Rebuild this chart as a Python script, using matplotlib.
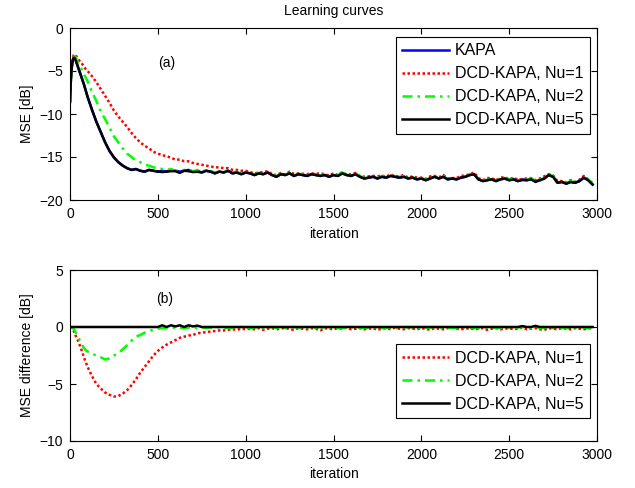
import numpy as np
import matplotlib
matplotlib.use('Agg')
import matplotlib.pyplot as plt

plt.rcParams['font.family'] = ['Liberation Sans', 'DejaVu Sans']

# iteration grid (dense at the start, then every 25)
iters = np.concatenate([[0, 5, 10, 15, 20, 25, 30, 40, 50, 60, 70, 80, 90, 100],
                        np.arange(125, 3000, 25)])

# (a) KAPA learning curve [dB]
kapa = np.array([
    -8.6, -6.0, -4.6, -3.8, -3.5, -3.45, -3.6, -4.2, -4.8, -5.4, -6.0, -6.6, -7.3, -8.0,
    -9.5, -10.9, -12.1, -13.3, -14.3, -15.05, -15.6, -16.0, -16.3, -16.5, -16.4, -16.6, -16.7, -16.5, -16.6, -16.7,
    -16.6, -16.7, -16.5, -16.6, -16.7, -16.6, -16.5, -16.7, -16.6, -16.8,
    -16.6, -16.7, -16.9, -16.7, -16.8, -16.6, -16.9, -16.8, -17.0, -16.8,
    -16.9, -17.1, -16.9, -17.0, -16.8, -17.1, -17.3, -17.0, -17.1, -16.9,
    -17.2, -17.0, -17.1, -17.2, -17.0, -17.1, -17.2, -17.1, -17.3, -17.1,
    -17.2, -16.9, -17.1, -17.2, -17.0, -17.3, -17.5, -17.4, -17.3, -17.5,
    -17.3, -17.4, -17.2, -17.3, -17.4, -17.3, -17.5, -17.4, -17.6, -17.5,
    -17.7, -17.5, -17.3, -17.5, -17.3, -17.6, -17.5, -17.6, -17.4, -17.3,
    -17.1, -17.0, -17.6, -17.8, -17.7, -17.6, -17.8, -17.6, -17.5, -17.7,
    -17.6, -17.8, -17.6, -17.7, -17.6, -17.8, -17.7, -17.5, -17.1, -17.3,
    -18.0, -17.9, -18.1, -17.9, -18.0, -17.8, -17.4, -17.7, -18.2])

# (a) DCD-KAPA curves, transient part (Nu=1 up to 1000, Nu=2 up to 600)
nu1_head = np.array([
    -8.6, -6.0, -4.5, -3.6, -3.2, -3.05, -3.1, -3.4, -3.7, -4.0, -4.2, -4.5, -4.8, -5.0,
    -5.6, -6.3, -7.1, -7.9, -8.7, -9.6, -10.3, -10.9, -11.5, -12.2,
    -12.8, -13.3, -13.7, -14.0, -14.4, -14.6, -14.8, -14.9, -15.1, -15.3,
    -15.3, -15.5, -15.5, -15.7, -15.8, -15.9, -16.0, -16.1, -16.2, -16.2,
    -16.3, -16.3, -16.5, -16.5, -16.6, -16.6])
nu2_head = np.array([
    -8.6, -6.0, -4.5, -3.7, -3.4, -3.3, -3.3, -3.8, -4.2, -4.6, -4.9, -5.4, -5.8, -6.2,
    -7.4, -8.5, -9.7, -10.6, -11.6, -12.6, -13.3, -14.0, -14.6, -15.0,
    -15.4, -15.6, -15.9, -16.0, -16.2, -16.3, -16.4, -16.5, -16.4, -16.6])

# (b) MSE difference KAPA - DCD-KAPA [dB]
diff_nu1 = np.array([
    0.0, 0.0, -0.1, -0.2, -0.3, -0.5, -0.7, -1.0, -1.35, -1.8, -2.2, -2.7, -3.1, -3.5,
    -4.3, -5.0, -5.4, -5.75, -5.95, -6.1, -6.05, -5.85, -5.55, -5.1,
    -4.6, -4.0, -3.5, -3.0, -2.5, -2.1, -1.8, -1.55, -1.35, -1.15,
    -0.95, -0.85, -0.75, -0.7, -0.55, -0.5, -0.45, -0.4, -0.35, -0.3,
    -0.3, -0.25, -0.2, -0.25, -0.15, -0.2,
    -0.15, -0.2, -0.1, -0.25, -0.15, -0.1, -0.2, -0.15, -0.05, -0.2,
    -0.25, -0.1, -0.15, -0.2, -0.1, -0.15, -0.3, -0.1, -0.15, -0.2,
    -0.1, -0.15, -0.05, -0.2, -0.15, -0.1, -0.2, -0.15, -0.1, -0.25,
    -0.15, -0.1, -0.2, -0.05, -0.15, -0.2, -0.1, -0.15, -0.2, -0.1,
    -0.15, -0.25, -0.1, -0.15, -0.2, -0.1, -0.05, -0.15, -0.2, -0.15,
    -0.1, -0.2, -0.15, -0.1, -0.25, -0.15, -0.1, -0.2, -0.15, -0.1,
    -0.2, -0.15, -0.05, -0.2, -0.15, -0.1, -0.2, -0.25, -0.1, -0.15,
    -0.2, -0.1, -0.15, -0.2, -0.1, -0.15, -0.2, -0.1, -0.15])
diff_nu2 = np.array([
    0.0, 0.0, -0.05, -0.1, -0.15, -0.25, -0.4, -0.7, -1.0, -1.3, -1.6, -1.85, -2.05, -2.15,
    -2.35, -2.5, -2.65, -2.85, -2.75, -2.5, -2.3, -1.95, -1.6, -1.2,
    -0.85, -0.7, -0.5, -0.35, -0.25, -0.15, -0.1, -0.1, -0.05, -0.05,
    -0.05, -0.1, -0.05, 0.0, -0.1, -0.05, -0.08, -0.05, -0.1, 0.0,
    -0.05, -0.1, -0.05, -0.08, 0.0, -0.05, -0.1, -0.05, -0.05, -0.1,
    -0.05, 0.0, -0.08, -0.05, -0.1, -0.05, 0.0, -0.05, -0.1, -0.05,
    -0.08, -0.05, 0.0, -0.1, -0.05, -0.05, -0.08, -0.1, -0.05, 0.0,
    -0.05, -0.1, -0.05, -0.08, -0.05, 0.0, -0.1, -0.05, -0.05, -0.08,
    -0.1, -0.05, 0.0, -0.05, -0.1, -0.05, -0.08, -0.05, 0.0, -0.1,
    -0.05, -0.05, -0.08, -0.1, -0.05, 0.0, -0.05, -0.1, -0.05, -0.08,
    -0.05, 0.0, -0.1, -0.05, -0.05, -0.08, -0.1, -0.05, 0.0, -0.05,
    -0.1, -0.05, -0.08, -0.05, 0.0, -0.1, -0.05, -0.05, -0.08, -0.1,
    -0.05, 0.0, -0.05, -0.1, -0.05])
diff_nu5 = np.array([
    0, 0, 0, 0, 0, 0, 0, 0, 0, 0, 0, 0, 0, 0,
    0, 0, 0, 0, 0, 0, 0, 0, 0, 0, 0, 0, 0, 0, 0, 0,
    0.15, 0.0, 0.15, 0.05, 0.15, 0.0, 0.15, 0.05, 0.12,
    0, 0, 0, 0, 0, 0, 0, 0, 0, 0,
    0, 0, 0, 0, 0, 0, 0, 0, 0, 0,
    0, 0, 0, 0, 0, 0, 0, 0, 0, 0,
    0, 0, 0, 0, 0, 0, 0, 0, 0, 0,
    0, 0, 0, 0, 0, 0, 0, 0, 0, 0,
    0, 0, 0, 0, 0, 0, 0, 0, 0, 0,
    0, 0, 0, 0, 0, 0, 0, 0, 0, 0,
    0, 0, 0, 0.08, 0, 0, 0.1, 0, 0, 0,
    0, 0, 0, 0, 0, 0, 0, 0, 0, 0], dtype=float)

# steady-state parts of (a) follow KAPA minus the difference
nu1 = np.concatenate([nu1_head, (kapa - diff_nu1)[len(nu1_head):]])
nu2 = np.concatenate([nu2_head, (kapa - diff_nu2)[len(nu2_head):]])
nu5 = kapa - diff_nu5

labels = ['KAPA', 'DCD-KAPA, Nu=1', 'DCD-KAPA, Nu=2', 'DCD-KAPA, Nu=5']
red_style = dict(color='#ff0000', linestyle=(0, (1, 1)), lw=1.8)
green_style = dict(color='#00ff00', linestyle=(0, (4, 2, 1, 2)), lw=1.8)
black_style = dict(color='k', linestyle='-', lw=1.8)

fig = plt.figure(figsize=(6.35, 4.88), dpi=100)
ax1 = fig.add_axes([70 / 635, 1 - 200 / 488, 527 / 635, 172 / 488])
ax2 = fig.add_axes([70 / 635, 1 - 441 / 488, 527 / 635, 171 / 488])

ax1.plot(iters, kapa, color='#0000ff', lw=1.8, label=labels[0])
ax1.plot(iters, nu1, label=labels[1], **red_style)
ax1.plot(iters, nu2, label=labels[2], **green_style)
ax1.plot(iters, nu5, label=labels[3], **black_style)

ax2.plot(iters, diff_nu1, label=labels[1], **red_style)
ax2.plot(iters, diff_nu2, label=labels[2], **green_style)
ax2.plot(iters, diff_nu5, label=labels[3], **black_style)

ax1.set_ylim(-20, 0)
ax1.set_yticks([-20, -15, -10, -5, 0])
ax2.set_ylim(-10, 5)
ax2.set_yticks([-10, -5, 0, 5])
for ax in (ax1, ax2):
    ax.set_xlim(0, 3000)
    ax.set_xticks(range(0, 3001, 500))
    ax.tick_params(direction='in', length=4, width=0.8, top=True, right=True,
                   labelsize=10, pad=5)
    ax.set_xlabel('iteration', fontsize=10, labelpad=4)
    for s in ax.spines.values():
        s.set_linewidth(0.8)

ax1.set_ylabel('MSE [dB]', fontsize=10)
ax2.set_ylabel('MSE difference [dB]', fontsize=10)
ax1.set_title('Learning curves', fontsize=10, pad=9)

ax1.text(550, -4.1, '(a)', fontsize=10, ha='center', va='center')
ax2.text(540, 2.5, '(b)', fontsize=10, ha='center', va='center')

leg_kw = dict(fontsize=11.5, frameon=True, fancybox=False, edgecolor='k', framealpha=1,
              handlelength=2.9, handletextpad=0.4, labelspacing=0.5, borderaxespad=0,
              borderpad=0.4)
l1 = ax1.legend(loc='upper right', bbox_to_anchor=(0.9867, 0.948), **leg_kw)
l2 = ax2.legend(loc='lower right', bbox_to_anchor=(0.9867, 0.1345), **leg_kw)
for l in (l1, l2):
    l.get_frame().set_linewidth(0.8)

plt.savefig('out.png', dpi=100)
